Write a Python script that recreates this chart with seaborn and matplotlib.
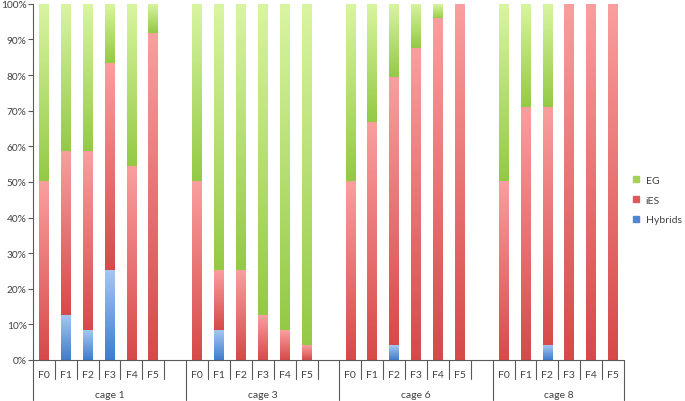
import numpy as np
import pandas as pd
import matplotlib
matplotlib.use("Agg")
import matplotlib.pyplot as plt
import matplotlib.transforms as mtransforms
from matplotlib.lines import Line2D
import seaborn as sns

cages = ["cage 1", "cage 3", "cage 6", "cage 8"]
generations = ["F0", "F1", "F2", "F3", "F4", "F5"]

# shares in % per cage, generations F0..F5
hybrids = {
    "cage 1": [0, 12.5, 8.3, 25.0, 0, 0],
    "cage 3": [0, 8.3, 0, 0, 0, 0],
    "cage 6": [0, 0, 4.2, 0, 0, 0],
    "cage 8": [0, 0, 4.2, 0, 0, 0],
}
ies = {
    "cage 1": [50.0, 45.8, 50.0, 58.3, 54.2, 91.7],
    "cage 3": [50.0, 16.7, 25.0, 12.5, 8.3, 4.2],
    "cage 6": [50.0, 66.7, 75.0, 87.5, 95.8, 100.0],
    "cage 8": [50.0, 70.8, 66.7, 100.0, 100.0, 100.0],
}
eg = {
    "cage 1": [50.0, 41.7, 41.7, 16.7, 45.8, 8.3],
    "cage 3": [50.0, 75.0, 75.0, 87.5, 91.7, 95.8],
    "cage 6": [50.0, 33.3, 20.8, 12.5, 4.2, 0.0],
    "cage 8": [50.0, 29.2, 29.2, 0.0, 0.0, 0.0],
}

SLOTS_PER_CAGE = 7  # 6 generations + one empty slot

rows = []
for ci, cage in enumerate(cages):
    for gi, gen in enumerate(generations):
        h, r, g = hybrids[cage][gi], ies[cage][gi], eg[cage][gi]
        rows.append({
            "cage": cage, "gen": gen, "slot": ci * SLOTS_PER_CAGE + gi,
            "hyb": h, "ies_cum": h + r, "eg_cum": h + r + g,
        })
df = pd.DataFrame(rows)
df["zero"] = 0.0

# (column to draw, column below, top colour, bottom colour)
layers = [
    ("eg_cum", "ies_cum", (0.85, 0.96, 0.63), (0.58, 0.79, 0.27)),
    ("ies_cum", "hyb", (0.98, 0.62, 0.62), (0.84, 0.29, 0.29)),
    ("hyb", "zero", (0.64, 0.78, 0.95), (0.25, 0.49, 0.80)),
]
legend_items = [("EG", "#a6d05a"), ("iES", "#dd5a5a"), ("Hybrids", "#4f88d0")]

sns.set_style("white")
plt.rcParams["font.family"] = ["Lato", "DejaVu Sans"]
text_col = "#404040"
line_col = "#5a5a5a"

fig, ax = plt.subplots(figsize=(6.85, 4.02), dpi=100)
fig.subplots_adjust(left=0.048, right=0.911, bottom=0.102, top=0.988)


def gradient(top, bottom, n=64):
    t = np.linspace(0, 1, n)[:, None]
    c = np.array(bottom)[None, :] * (1 - t) + np.array(top)[None, :] * t
    return c[:, None, :]


for col, below, ctop, cbot in layers:
    n0 = len(ax.patches)
    sns.barplot(data=df, x="slot", y=col, native_scale=True, width=0.44,
                color=cbot, errorbar=None, linewidth=0, ax=ax)
    new = ax.patches[n0:]
    for p, lo, hi in zip(new, df[below], df[col]):
        p.set_visible(False)
        if hi - lo <= 0:
            continue
        x0 = p.get_x()
        ax.imshow(gradient(ctop, cbot), origin="lower", aspect="auto",
                  interpolation="bilinear",
                  extent=[x0, x0 + p.get_width(), lo, hi], zorder=2)

n_slots = len(cages) * SLOTS_PER_CAGE - 1
ax.set_xlim(-0.5, n_slots - 0.5)
ax.set_ylim(0, 100)
ax.set_yticks(range(0, 101, 10))
ax.set_yticklabels([f"{v}%" for v in range(0, 101, 10)])
ax.set_xticks(df["slot"])
ax.set_xticklabels(df["gen"])
ax.set_xlabel("")
ax.set_ylabel("")

ax.tick_params(axis="x", length=0, pad=7, labelsize=7.5, labelcolor=text_col)
ax.tick_params(axis="y", length=3.5, width=0.8, color=line_col, direction="out",
               labelsize=7.3, labelcolor=text_col, pad=1, left=True)
for s in ["top", "right"]:
    ax.spines[s].set_visible(False)
for s in ["left", "bottom"]:
    ax.spines[s].set_color(line_col)
    ax.spines[s].set_linewidth(0.8)

# two-level category axis: separators and cage labels
trans = mtransforms.blended_transform_factory(ax.transData, ax.transAxes)
for ci, cage in enumerate(cages):
    start = ci * SLOTS_PER_CAGE - 0.5
    n_in = SLOTS_PER_CAGE if ci < len(cages) - 1 else len(generations)
    end = start + n_in
    ax.plot([start, start], [0, -0.112], transform=trans, color=line_col,
            lw=0.8, clip_on=False)
    for k in range(1, len(generations)):
        x = start + k
        ax.plot([x, x], [0, -0.053], transform=trans, color=line_col,
                lw=0.8, clip_on=False)
    if n_in > len(generations):
        x = start + len(generations)
        ax.plot([x, x], [0, -0.053], transform=trans, color=line_col,
                lw=0.8, clip_on=False)
    if ci == len(cages) - 1:
        ax.plot([end, end], [0, -0.112], transform=trans, color=line_col,
                lw=0.8, clip_on=False)
    ax.text((start + end) / 2, -0.096, cage, transform=trans, ha="center",
            va="center", fontsize=7.5, color=text_col)

handles = [Line2D([], [], marker="s", linestyle="", markersize=4, color=c)
           for _, c in legend_items]
fig.legend(handles, [n for n, _ in legend_items], loc="center left",
           bbox_to_anchor=(0.909, 0.5), frameon=False, handlelength=0.8,
           handletextpad=0.5, labelspacing=1.0, fontsize=7.5,
           labelcolor=text_col)

fig.savefig("out.png", dpi=100)
